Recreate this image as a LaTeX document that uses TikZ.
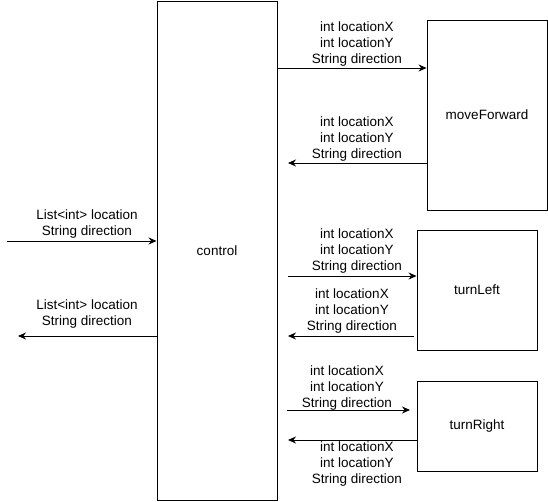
\documentclass[tikz,border=0pt]{standalone}
\usepackage{fontspec}
\setmainfont{Liberation Sans}
\usetikzlibrary{arrows.meta, positioning}

\begin{document}
\begin{tikzpicture}[x=1pt, y=-1pt,
  every node/.style={font=\fontsize{13.5}{16}\selectfont},
  box/.style={rectangle, draw, line width=0.9pt, inner sep=0pt, align=center},
  lbl/.style={align=center, inner sep=0pt},
  flow/.style={-{Stealth[length=8pt, width=7pt]}, line width=0.9pt},
]
  \useasboundingbox (0,0) rectangle (548,502);

  \node[box, minimum width=120pt, minimum height=499pt] (control) at (217,250.5) {control};
  \node[box, minimum width=120pt, minimum height=190pt] (move) at (487,115) {moveForward};
  \node[box, minimum width=120pt, minimum height=120pt] (left) at (477,290) {turnLeft};
  \node[box, minimum width=120pt, minimum height=90pt] (right) at (477,426) {turnRight};

  % free ends
  \coordinate (inL) at (7,241);
  \coordinate (outL) at (18,336);
  \coordinate (moveOut) at (277,68);
  \coordinate (moveRet) at (288,163);
  \coordinate (leftOut) at (288,276);
  \coordinate (leftRet) at (288,336);
  \coordinate (rightOut) at (287,410);
  \coordinate (rightEnd) at (410,410);
  \coordinate (rightRet) at (288,440);

  \node[lbl] (inTxt) at (87,224) {List<int> location\\String direction};
  \node[lbl] (outTxt) at (87,314) {List<int> location\\String direction};
  \node[lbl] (moveOutTxt) at (357,44) {int locationX\\int locationY\\String direction};
  \node[lbl] (moveRetTxt) at (357,139) {int locationX\\int locationY\\String direction};
  \node[lbl] (leftOutTxt) at (357,251) {int locationX\\int locationY\\String direction};
  \node[lbl] (leftRetTxt) at (352,311) {int locationX\\int locationY\\String direction};
  \node[lbl] (rightOutTxt) at (347,388) {int locationX\\int locationY\\String direction};
  \node[lbl] (rightRetTxt) at (357,464) {int locationX\\int locationY\\String direction};

  \draw[flow] (inL) -- (inL -| control.west);
  \draw[flow] (control.west |- outL) -- (outL);
  \draw[flow] (moveOut) -- (moveOut -| move.west);
  \draw[flow] (move.west |- moveRet) -- (moveRet);
  \draw[flow] (leftOut) -- (leftOut -| left.west);
  \draw[flow] ([xshift=-3pt]left.west |- leftRet) -- (leftRet);
  \draw[flow] (rightOut) -- (rightEnd);
  \draw[flow] (right.west |- rightRet) -- (rightRet);
\end{tikzpicture}
\end{document}
